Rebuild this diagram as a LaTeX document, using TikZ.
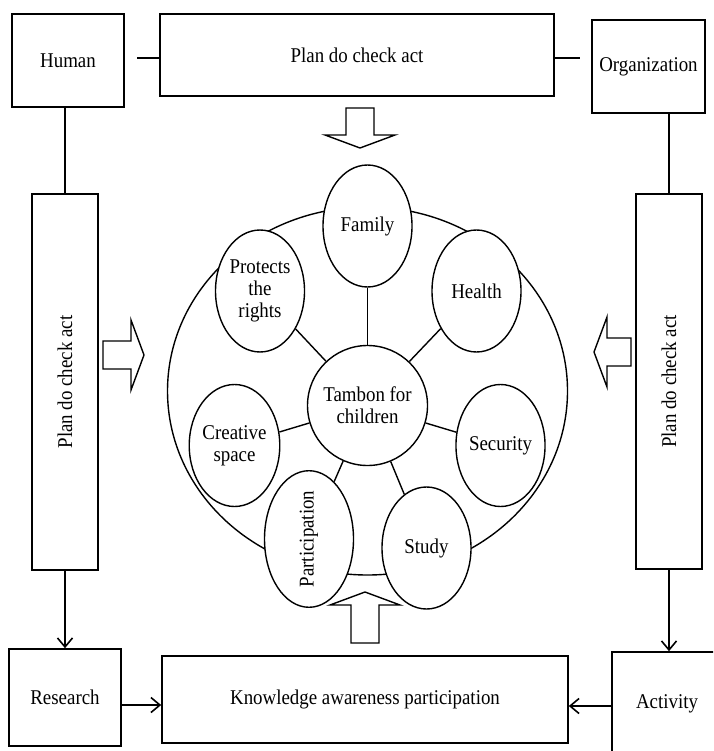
\documentclass[tikz,border=0pt]{standalone}
\usepackage{graphicx}
\usepackage{fontspec}
\setmainfont{Liberation Serif}[FakeStretch=0.9]
\usetikzlibrary{shapes.geometric,arrows.meta}

\begin{document}
\begin{tikzpicture}[x=1pt, y=-1pt, line width=1.4pt,
  font=\fontsize{21}{22}\selectfont,
  box/.style={draw, rectangle, inner sep=0pt, align=center, line width=1.6pt},
  topic/.style={draw, ellipse, fill=white, minimum width=89pt, minimum height=122pt, inner sep=0pt, align=center},
  hub/.style={draw, circle, fill=white, minimum size=120pt, inner sep=0pt, align=center},
  flow/.style={line width=1.6pt, -{Straight Barb[length=9pt,width=15pt]}}]

%─────────────
% Page frame
%─────────────
\useasboundingbox (0,0) rectangle (713,751);
\clip (0,0) rectangle (713,751);

%───────────────────────────────────────────────────────
% Command for a hollow block arrow
% #1 = direction (deg), (#2,#3) = tip, #4 = total length
%───────────────────────────────────────────────────────
\newcommand{\drawBlockArrow}[4]{%
  \begin{scope}[shift={(#2,#3)}, rotate=#1]
    \draw[fill=white] (0,0) -- (-13,35) -- (-13,14) -- (-#4,14)
      -- (-#4,-14) -- (-13,-14) -- (-13,-35) -- cycle;
  \end{scope}
}

%─────────────
% Outer boxes
%─────────────
\node[box, minimum width=112pt, minimum height=93pt] (human) at (68,60.5) {Human};
\node[box, minimum width=394pt, minimum height=82pt] (pdcaTop) at (357,55) {Plan do check act};
\node[box, minimum width=113pt, minimum height=93pt] (org) at (648.5,66.5) {Organization};

\node[box, minimum width=66pt, minimum height=376pt] (pdcaL) at (65,382) {\rotatebox{90}{Plan do check act}};
\node[box, minimum width=66pt, minimum height=375pt] (pdcaR) at (669,381.5) {\rotatebox{90}{Plan do check act}};

\node[box, minimum width=112pt, minimum height=97pt] (research) at (65,697.5) {Research};
\node[box, minimum width=406pt, minimum height=87pt] (kap) at (365,699.5) {Knowledge awareness participation};
\node[box, minimum width=110pt, minimum height=104pt] (activity) at (667,704) {Activity};

%─────────────
% Connectors
%─────────────
\coordinate (hL) at (137,58);
\coordinate (oR) at (580,58);
\draw (hL) -- (hL -| pdcaTop.west);
\draw (oR -| pdcaTop.east) -- (oR);
\draw (human.south -| pdcaL.north) -- (pdcaL.north);
\draw (org.south -| pdcaR.north) -- (pdcaR.north);

\draw[flow] (pdcaL.south) -- (pdcaL.south |- research.north);
\draw[flow] (pdcaR.south) -- (pdcaR.south |- activity.north);
\draw[flow] ([yshift=-7.5pt]research.east) -- ([yshift=-7.5pt]research.east -| kap.west);
\draw[flow] ([yshift=-2pt]activity.west) -- ([yshift=-2pt]activity.west -| kap.east);

%─────────────
% Block arrows
%─────────────
\drawBlockArrow{0}{144}{355}{41}
\drawBlockArrow{180}{594}{352}{37}
\drawBlockArrow{90}{365}{592}{51}
\drawBlockArrow{-90}{360}{148}{40}

%─────────────
% Centre wheel
%─────────────
\draw (367.5,391) ellipse [x radius=200pt, y radius=184pt];

\node[topic] (family) at (367.5,226) {Family};
\node[topic] (rights) at (260,291) {Protects\\the\\rights};
\node[topic] (health) at (476.5,291) {Health};
\node[topic] (creative) at (234.5,445.5) {Creative\\space};
\node[topic] (security) at (500.5,445.5) {Security};
\node[topic] (particip) at (309,539) {\rotatebox{90}{Participation}};
\node[topic] (study) at (426.5,548) {Study};
\node[hub] (tambon) at (367.5,405.5) {Tambon for\\children};

\foreach \t in {family,rights,health,creative,security,particip,study} {
  \draw (tambon) -- (\t);
}

\end{tikzpicture}
\end{document}
